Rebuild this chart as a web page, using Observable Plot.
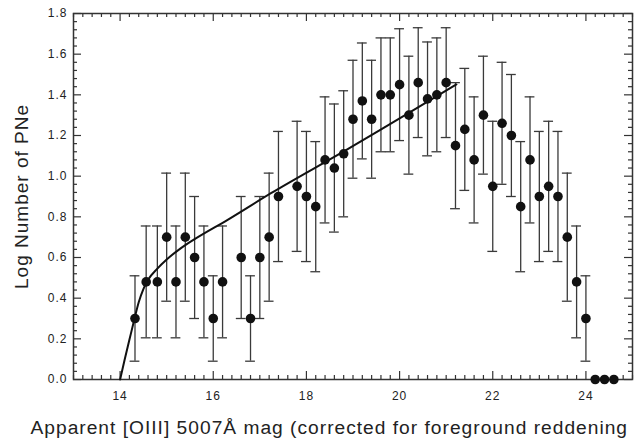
<!DOCTYPE html>
<html>
<head>
<meta charset="utf-8">
<script src="https://cdn.jsdelivr.net/npm/d3@7"></script>
<script src="https://cdn.jsdelivr.net/npm/@observablehq/plot@0.6"></script>
<style>
  html, body { margin: 0; padding: 0; background: #fff; }
  #chart svg text { letter-spacing: 1px; }
</style>
</head>
<body>
<div id="chart"></div>
<script>
// Binned [OIII] 5007 magnitudes of planetary nebulae
const mag = [14.32, 14.56, 14.8, 15.0, 15.2, 15.4, 15.6, 15.8, 16.0, 16.2,
             16.6, 16.8, 17.0, 17.2, 17.4, 17.8, 18.0, 18.2, 18.4, 18.6, 18.8,
             19.0, 19.2, 19.4, 19.6, 19.8, 20.0, 20.2, 20.4, 20.6, 20.8, 21.0,
             21.2, 21.4, 21.6, 21.8, 22.0, 22.2, 22.4, 22.6, 22.8, 23.0, 23.2,
             23.4, 23.6, 23.8, 24.0, 24.2, 24.4, 24.6];
const logN = [0.30, 0.48, 0.48, 0.70, 0.48, 0.70, 0.60, 0.48, 0.30, 0.48,
              0.60, 0.30, 0.60, 0.70, 0.90, 0.95, 0.90, 0.85, 1.08, 1.04, 1.11,
              1.28, 1.37, 1.28, 1.40, 1.40, 1.45, 1.30, 1.46, 1.38, 1.40, 1.46,
              1.15, 1.23, 1.08, 1.30, 0.95, 1.26, 1.20, 0.85, 1.08, 0.90, 0.95,
              0.90, 0.70, 0.48, 0.30, 0, 0, 0];
// half-width of the error bar in log units (0 = no bar)
const logErr = [0.21, 0.275, 0.275, 0.315, 0.275, 0.315, 0.30, 0.275, 0.21, 0.275,
                0.30, 0.21, 0.30, 0.315, 0.32, 0.32, 0.32, 0.32, 0.31, 0.315, 0.31,
                0.29, 0.285, 0.29, 0.28, 0.28, 0.275, 0.29, 0.27, 0.28, 0.28, 0.27,
                0.31, 0.30, 0.31, 0.29, 0.32, 0.30, 0.30, 0.32, 0.31, 0.32, 0.32,
                0.32, 0.315, 0.275, 0.21, 0, 0, 0];

// fitted luminosity function
const fitMag  = [14.0, 14.1, 14.2, 14.3, 14.4, 14.5, 14.6, 14.8, 15.0, 15.3, 15.6, 16.3, 17.23, 18.85, 21.22];
const fitLogN = [0.0, 0.10, 0.195, 0.29, 0.38, 0.445, 0.49, 0.545, 0.59, 0.645, 0.69, 0.784, 0.915, 1.128, 1.451];

const xTicks = [14, 16, 18, 20, 22, 24];
const yTicks = [0, 0.2, 0.4, 0.6, 0.8, 1.0, 1.2, 1.4, 1.6, 1.8];

const yTitle = "Log Number of PNe";
const xTitle = "Apparent [OIII] 5007Å mag (corrected for foreground reddening";

const points = mag.map((m, i) => ({mag: m, logN: logN[i], err: logErr[i]}));
const bars = points.filter(d => d.err > 0);
const fit = fitMag.map((m, i) => ({mag: m, logN: fitLogN[i]}));

const W = 634, H = 438;
const mL = 73, mR = 2, mT = 13, mB = 59;
const frameW = W - mL - mR, frameH = H - mT - mB;
const majorLen = 8, minorLen = 4;
const capHalf = 0.105;

// inward tick marks on all four sides
const xMinor = d3.range(65, 126).filter(i => i % 10 !== 0).map(i => i / 5);
const yMinor = d3.range(0, 46).filter(i => i % 5 !== 0).map(i => i * 0.04);
const tickStyle = {stroke: "#333", strokeWidth: 1.2};
const xTickMarks = (vals, len) => [
  Plot.tickX(vals, {x: d => d, insetTop: frameH - len, ...tickStyle}),
  Plot.tickX(vals, {x: d => d, insetBottom: frameH - len, ...tickStyle})
];
const yTickMarks = (vals, len) => [
  Plot.tickY(vals, {y: d => d, insetRight: frameW - len, ...tickStyle}),
  Plot.tickY(vals, {y: d => d, insetLeft: frameW - len, ...tickStyle})
];

const chart = Plot.plot({
  width: W,
  height: H,
  marginLeft: mL,
  marginRight: mR,
  marginTop: mT,
  marginBottom: mB,
  x: {domain: [13, 25]},
  y: {domain: [0, 1.8]},
  style: {fontFamily: "'Liberation Sans', Arial, sans-serif", fontSize: "12px", color: "#222", background: "#fff"},
  marks: [
    ...xTickMarks(xMinor, minorLen),
    ...xTickMarks(xTicks, majorLen),
    ...yTickMarks(yMinor, minorLen),
    ...yTickMarks(yTicks, majorLen),
    Plot.frame({stroke: "#333", strokeWidth: 1.5}),
    Plot.axisX(xTicks, {tickSize: 0, tickPadding: 12, label: null, fill: "#222"}),
    Plot.axisY(yTicks, {tickSize: 0, tickPadding: 6, tickFormat: d3.format(".1f"), label: null, fill: "#222"}),
    // error bars with caps
    Plot.ruleX(bars, {x: "mag", y1: d => d.logN - d.err, y2: d => d.logN + d.err, stroke: "#3a3a3a", strokeWidth: 1.3}),
    Plot.ruleY(bars, {y: d => d.logN + d.err, x1: d => d.mag - capHalf, x2: d => d.mag + capHalf, stroke: "#3a3a3a", strokeWidth: 1.3}),
    Plot.ruleY(bars, {y: d => d.logN - d.err, x1: d => d.mag - capHalf, x2: d => d.mag + capHalf, stroke: "#3a3a3a", strokeWidth: 1.3}),
    // fitted curve
    Plot.line(fit, {x: "mag", y: "logN", curve: "monotone-x", stroke: "#111", strokeWidth: 2}),
    // binned counts
    Plot.dot(points, {x: "mag", y: "logN", r: 4.8, fill: "#111", stroke: null}),
    // axis titles
    Plot.text([yTitle], {text: d => d, frameAnchor: "left", textAnchor: "middle", dx: -52, rotate: -90, fontSize: 19, fill: "#222"}),
    Plot.text([xTitle], {text: d => d, frameAnchor: "bottom-left", textAnchor: "start", dx: -43, dy: 54, fontSize: 19.2, fill: "#222"})
  ]
});
document.getElementById("chart").appendChild(chart);
</script>
</body>
</html>
